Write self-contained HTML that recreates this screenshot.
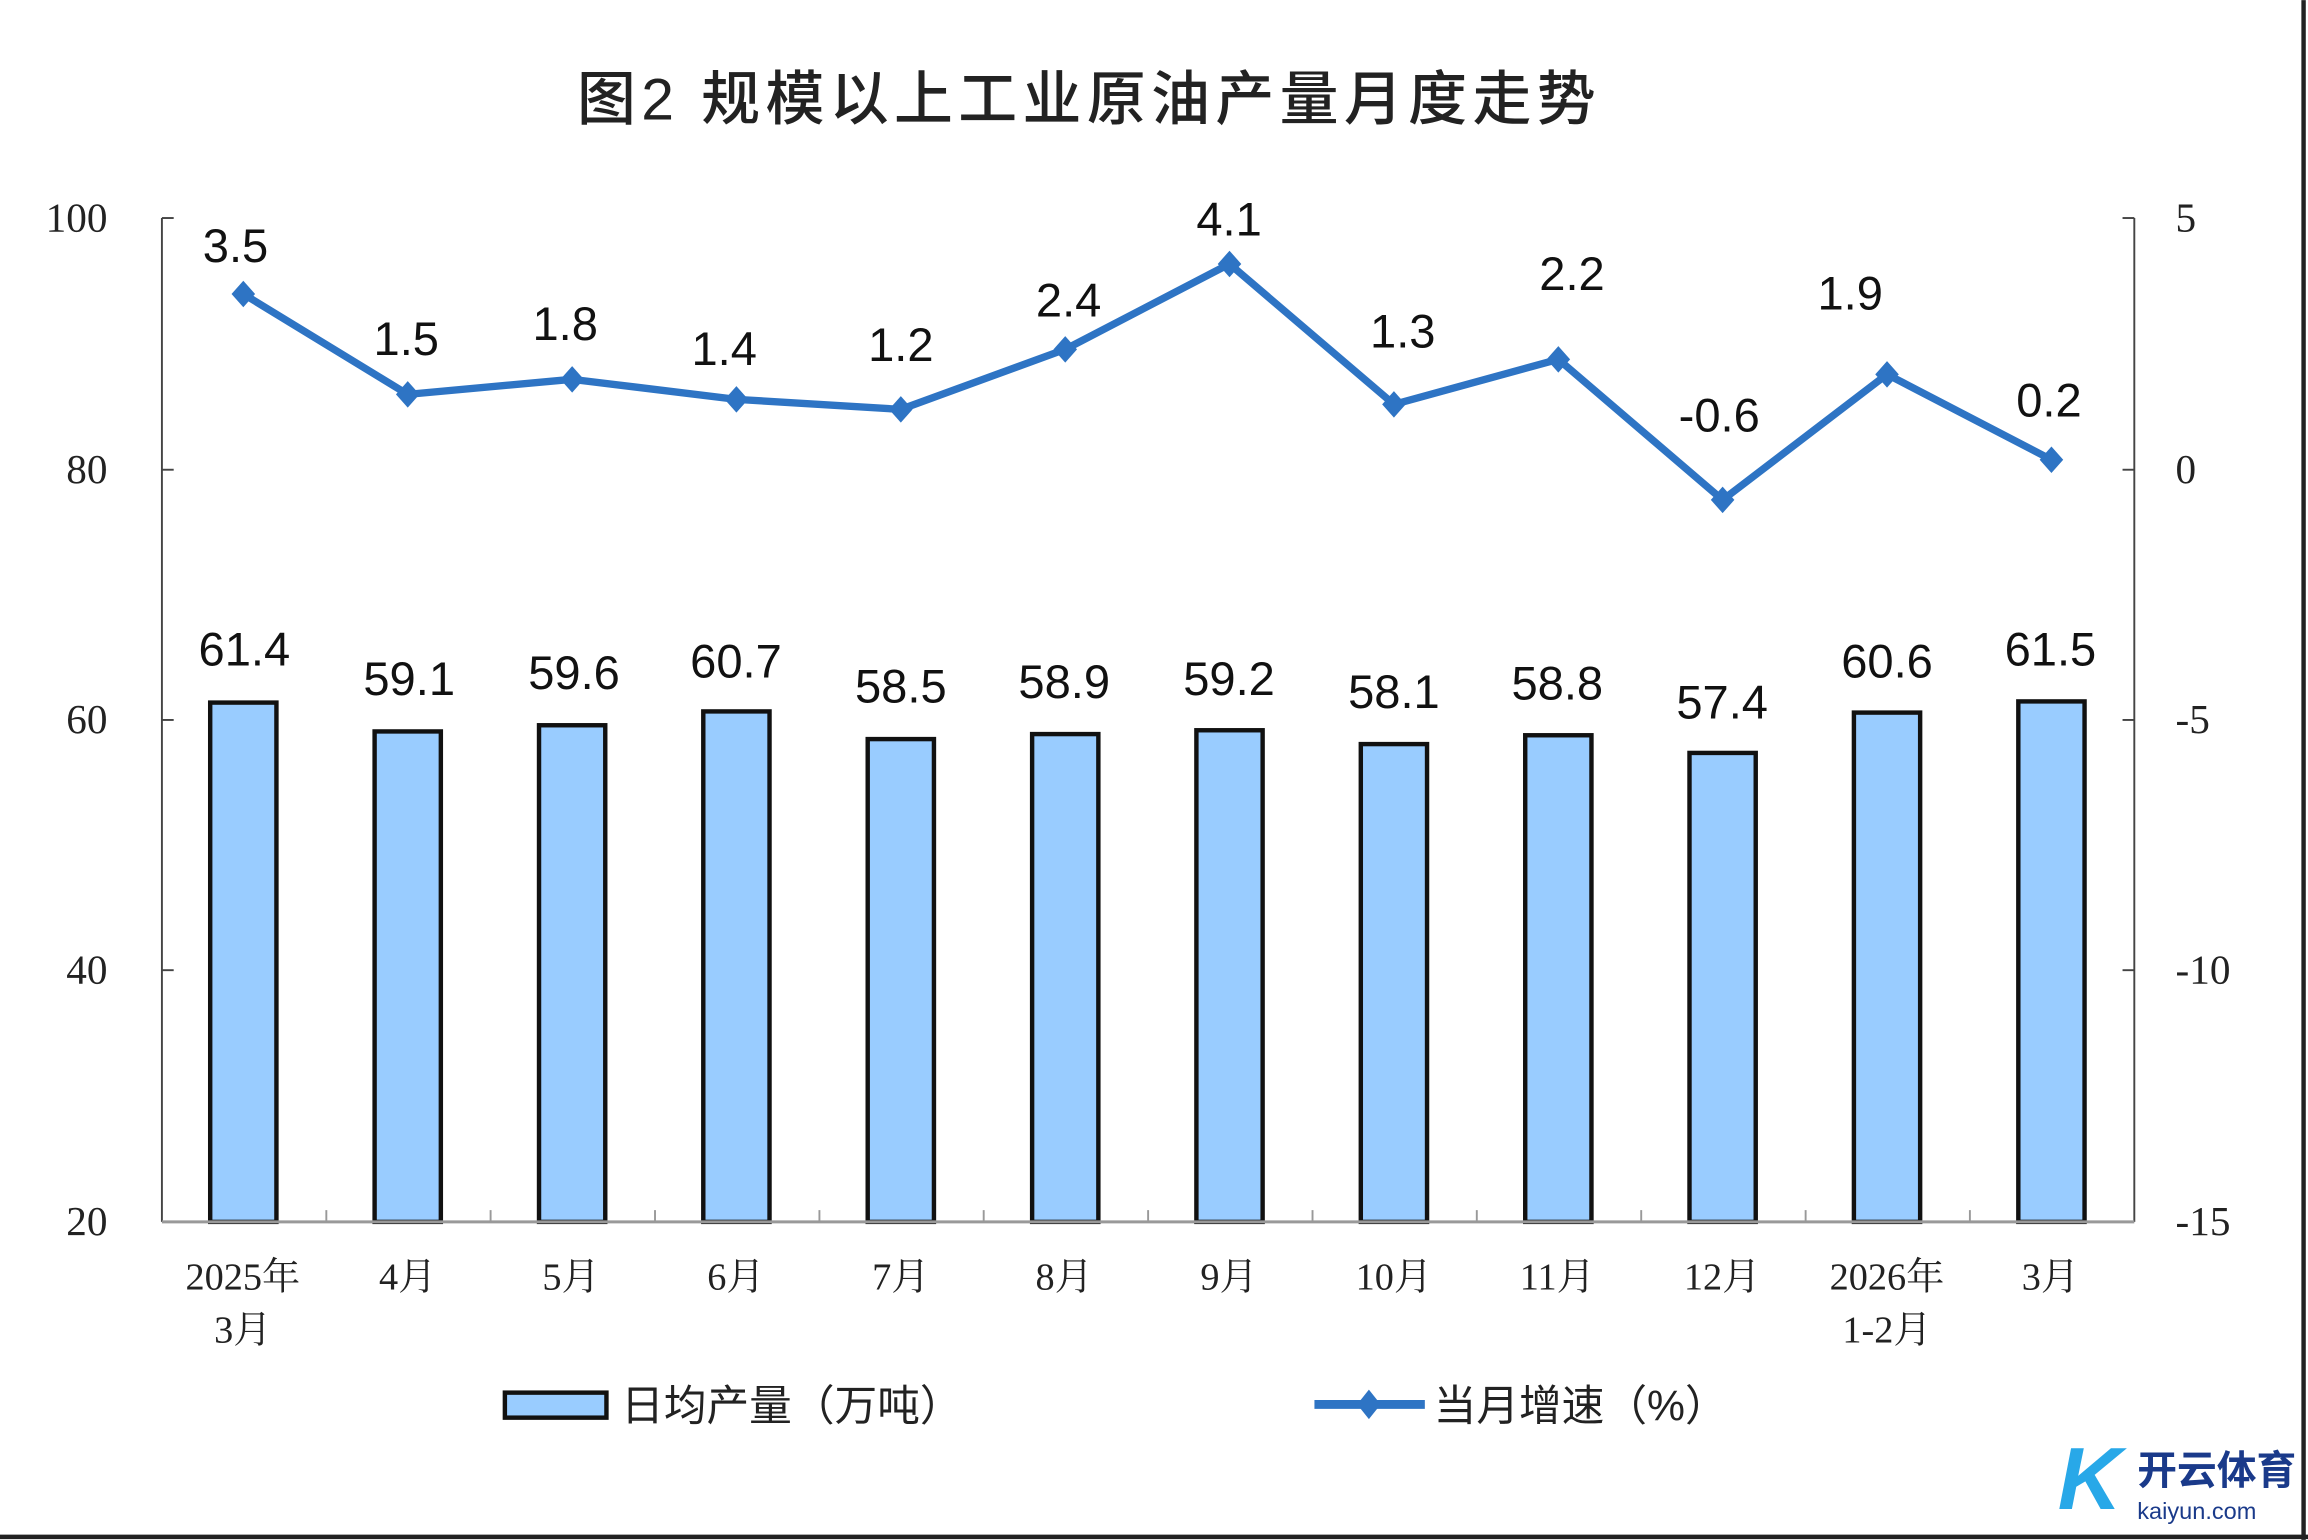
<!DOCTYPE html>
<html><head><meta charset="utf-8"><style>
html,body{margin:0;padding:0;background:#fff}
svg{display:block}
</style></head><body>
<svg width="2308" height="1540" viewBox="0 0 1568 1046" xmlns="http://www.w3.org/2000/svg">
<rect x="0" y="0" width="1568" height="1046" fill="#fff"/>
<line x1="1565" y1="0" x2="1565" y2="1046" stroke="#222" stroke-width="3"/>
<line x1="0" y1="1044" x2="1568" y2="1044" stroke="#222" stroke-width="3"/>
<text x="738" y="81" text-anchor="middle" font-family="'Liberation Sans','Noto Sans CJK SC',sans-serif" font-size="40" font-weight="500" fill="#222" textLength="692" lengthAdjust="spacing">图2  规模以上工业原油产量月度走势</text>
<g stroke="#444" stroke-width="1.3" fill="none">
<line x1="110" y1="148" x2="110" y2="830"/>
<line x1="1450" y1="148" x2="1450" y2="830"/>
<line x1="110" y1="148" x2="118" y2="148"/><line x1="110" y1="319" x2="118" y2="319"/><line x1="110" y1="489" x2="118" y2="489"/><line x1="110" y1="659" x2="118" y2="659"/>
<line x1="1442" y1="148" x2="1450" y2="148"/><line x1="1442" y1="319" x2="1450" y2="319"/><line x1="1442" y1="489" x2="1450" y2="489"/><line x1="1442" y1="659" x2="1450" y2="659"/>
</g>
<g font-family="'Liberation Serif',serif" font-size="28" fill="#222">
<text x="73" y="157" text-anchor="end">100</text><text x="73" y="328" text-anchor="end">80</text><text x="73" y="498" text-anchor="end">60</text><text x="73" y="668" text-anchor="end">40</text><text x="73" y="839" text-anchor="end">20</text>
<text x="1478" y="157">5</text><text x="1478" y="328">0</text><text x="1478" y="498">-5</text><text x="1478" y="668">-10</text><text x="1478" y="839">-15</text>
</g>
<g fill="#99ccff" stroke="#111" stroke-width="3">
<rect x="142.8" y="477.2" width="45" height="352.8"/>
<rect x="254.5" y="496.8" width="45" height="333.2"/>
<rect x="366.2" y="492.6" width="45" height="337.4"/>
<rect x="477.8" y="483.2" width="45" height="346.8"/>
<rect x="589.5" y="502" width="45" height="328"/>
<rect x="701.2" y="498.6" width="45" height="331.4"/>
<rect x="812.8" y="496" width="45" height="334"/>
<rect x="924.5" y="505.4" width="45" height="324.6"/>
<rect x="1036.2" y="499.4" width="45" height="330.6"/>
<rect x="1147.8" y="511.4" width="45" height="318.6"/>
<rect x="1259.5" y="484" width="45" height="346"/>
<rect x="1371.2" y="476.4" width="45" height="353.6"/>
</g>
<line x1="110" y1="830" x2="1450" y2="830" stroke="#999" stroke-width="2"/>
<g stroke="#999" stroke-width="1.3">
<line x1="221.7" y1="822" x2="221.7" y2="830"/><line x1="333.3" y1="822" x2="333.3" y2="830"/><line x1="445" y1="822" x2="445" y2="830"/><line x1="556.7" y1="822" x2="556.7" y2="830"/><line x1="668.3" y1="822" x2="668.3" y2="830"/><line x1="780" y1="822" x2="780" y2="830"/><line x1="891.7" y1="822" x2="891.7" y2="830"/><line x1="1003.3" y1="822" x2="1003.3" y2="830"/><line x1="1115" y1="822" x2="1115" y2="830"/><line x1="1226.7" y1="822" x2="1226.7" y2="830"/><line x1="1338.3" y1="822" x2="1338.3" y2="830"/>
</g>
<polyline fill="none" stroke="#2e74c4" stroke-width="5" stroke-linejoin="round" points="165.3,199.6 277,267.8 388.7,257.6 500.3,271.2 612,278 723.7,237.2 835.3,179.2 947,274.6 1058.7,244 1170.3,339.5 1282,254.2 1393.7,312.2"/>
<g fill="#2e74c4">
<path d="M165.3,190.6l8,9-8,9-8-9z"/><path d="M277,258.8l8,9-8,9-8-9z"/><path d="M388.7,248.6l8,9-8,9-8-9z"/><path d="M500.3,262.2l8,9-8,9-8-9z"/><path d="M612,269l8,9-8,9-8-9z"/><path d="M723.7,228.2l8,9-8,9-8-9z"/><path d="M835.3,170.2l8,9-8,9-8-9z"/><path d="M947,265.6l8,9-8,9-8-9z"/><path d="M1058.7,235l8,9-8,9-8-9z"/><path d="M1170.3,330.5l8,9-8,9-8-9z"/><path d="M1282,245.2l8,9-8,9-8-9z"/><path d="M1393.7,303.2l8,9-8,9-8-9z"/>
</g>
<g font-family="'Liberation Sans',sans-serif" font-size="32" fill="#111" text-anchor="middle">
<text x="160" y="178">3.5</text><text x="276" y="241">1.5</text><text x="384" y="231">1.8</text><text x="492" y="248">1.4</text><text x="612" y="245">1.2</text><text x="726" y="215">2.4</text><text x="835" y="160">4.1</text><text x="953" y="236">1.3</text><text x="1068" y="197">2.2</text><text x="1168" y="293">-0.6</text><text x="1257" y="210">1.9</text><text x="1392" y="283">0.2</text>
<text x="166" y="452">61.4</text><text x="278" y="472">59.1</text><text x="390" y="468">59.6</text><text x="500" y="460">60.7</text><text x="612" y="477">58.5</text><text x="723" y="474">58.9</text><text x="835" y="472">59.2</text><text x="947" y="481">58.1</text><text x="1058" y="475">58.8</text><text x="1170" y="488">57.4</text><text x="1282" y="460">60.6</text><text x="1393" y="452">61.5</text>
</g>
<g font-family="'Liberation Serif','Noto Serif CJK SC',serif" font-size="26" fill="#222" text-anchor="middle">
<text x="165" y="876">2025年</text><text x="165" y="912">3月</text>
<text x="277" y="876">4月</text><text x="388" y="876">5月</text><text x="500" y="876">6月</text><text x="612" y="876">7月</text><text x="723" y="876">8月</text><text x="835" y="876">9月</text><text x="947" y="876">10月</text><text x="1058" y="876">11月</text><text x="1170" y="876">12月</text>
<text x="1282" y="876">2026年</text><text x="1282" y="912">1-2月</text><text x="1393" y="876">3月</text>
</g>
<rect x="343" y="946" width="69" height="17" fill="#99ccff" stroke="#111" stroke-width="3"/>
<line x1="893" y1="954" x2="968" y2="954" stroke="#2e74c4" stroke-width="6"/>
<path d="M930,944l8,10-8,10-8-10z" fill="#2e74c4"/>
<g font-family="'Liberation Sans','Noto Sans CJK SC',sans-serif" font-size="29" fill="#222">
<text x="422" y="965">日均产量（万吨）</text>
<text x="974" y="965">当月增速（%）</text>
</g>
<text x="1452" y="1008" font-family="'Noto Sans CJK SC',sans-serif" font-size="27" font-weight="bold" fill="#1a3a8a">开云体育</text>
<text x="1452" y="1032" font-family="'Liberation Sans',sans-serif" font-size="16" fill="#1a3a8a">kaiyun.com</text>
<text x="1398" y="1025" font-family="'Liberation Sans',sans-serif" font-size="60" font-style="italic" font-weight="bold" fill="#28a8e8">K</text>
</svg>
</body></html>
